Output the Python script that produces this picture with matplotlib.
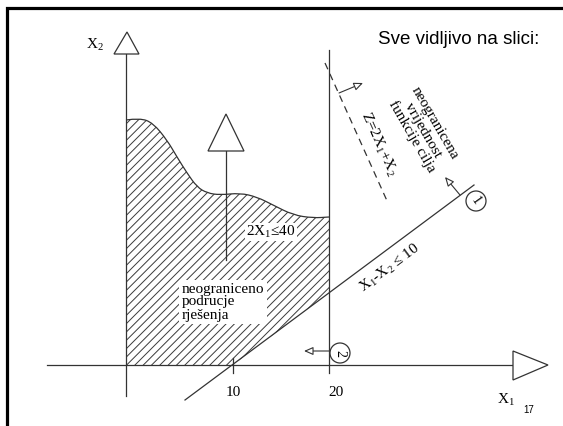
import numpy as np
import matplotlib
matplotlib.use("Agg")
import matplotlib.pyplot as plt
from matplotlib.path import Path
from matplotlib.patches import PathPatch, Polygon, Circle, FancyArrowPatch

plt.rcParams['font.family'] = ['Liberation Serif', 'DejaVu Serif']
plt.rcParams['mathtext.fontset'] = 'custom'
plt.rcParams['mathtext.rm'] = 'Liberation Serif'
plt.rcParams['mathtext.it'] = 'Liberation Serif:italic'
plt.rcParams['hatch.linewidth'] = 0.7
plt.rcParams['hatch.color'] = '#3a3a3a'

# skica je u koordinatama slike (x udesno, y prema dolje)
okvir_x = [6.5, 6.5, 563]
okvir_y = [426, 7.5, 7.5]

os_x1_x = [47, 513]
os_x1_y = [365, 365]
vrh_x1 = [(513, 351), (513, 380), (548, 365)]

os_x2_x = [126, 126]
os_x2_y = [396, 54]
vrh_x2 = [(114, 54), (139, 54), (127, 32)]

# ogranicenje 2X1 <= 40 (okomita linija kod 20) i crtica kod 10
linija_20_x = [329, 329]
linija_20_y = [50, 373]
crtica_10_x = [233, 233]
crtica_10_y = [358, 373]

# pravac X1 - X2 <= 10
pravac_x = [185, 474]
pravac_y = [400, 185]

# funkcija cilja (iscrtkano)
cilj_x = [325, 388]
cilj_y = [63, 203]

# gornji rub podrucja (valovita krivulja)
krivulja_x = [126, 140, 153, 167, 177, 187, 197, 207, 220, 240, 257, 273, 293, 313, 329]
krivulja_y = [120, 118, 123, 140, 157, 173, 187, 193, 195, 193, 197, 205, 215, 218, 217]

# strelica unutar podrucja
unutarnja_x = [226, 226]
unutarnja_y = [260, 151]
vrh_unutarnji = [(208, 151), (244, 151), (226, 114)]

# male strelice smjera
strelice = [((460, 195), (445, 177)),
            ((329, 351), (304, 351)),
            ((339, 93), (363, 83))]

krugovi = [((476, 201), '1', -55), ((340, 353), '2', -90)]

boja = '#333333'

fig = plt.figure(figsize=(5.63, 4.26), dpi=100)
ax = fig.add_axes([0, 0, 1, 1])
ax.set_xlim(0, 563)
ax.set_ylim(426, 0)
ax.axis('off')

# okvir slajda
ax.plot(okvir_x, okvir_y, color='black', lw=2.3, solid_joinstyle='miter')

# krivulja kao glatki put kroz ocitane tocke
kv = [(krivulja_x[0], krivulja_y[0])]
kc = [Path.MOVETO]
for i in range(1, len(krivulja_x) - 1):
    kv.append((krivulja_x[i], krivulja_y[i]))
    kv.append(((krivulja_x[i] + krivulja_x[i + 1]) / 2, (krivulja_y[i] + krivulja_y[i + 1]) / 2))
    kc += [Path.CURVE3, Path.CURVE3]
kv.append((krivulja_x[-1], krivulja_y[-1]))
kc.append(Path.LINETO)
krivulja_put = Path(kv, kc)

# srafirano podrucje rjesenja
nagib = (pravac_y[1] - pravac_y[0]) / (pravac_x[1] - pravac_x[0])
y_presjek = pravac_y[0] + (linija_20_x[0] - pravac_x[0]) * nagib
verts = [(os_x2_x[0], os_x1_y[0])] + kv + [(linija_20_x[0], y_presjek),
                                           (crtica_10_x[0], os_x1_y[0]),
                                           (os_x2_x[0], os_x1_y[0])]
codes = [Path.MOVETO, Path.LINETO] + kc[1:] + [Path.LINETO, Path.LINETO, Path.CLOSEPOLY]
ax.add_patch(PathPatch(Path(verts, codes), facecolor='none', edgecolor='#3a3a3a',
                       hatch='////', lw=0, zorder=1))
ax.add_patch(PathPatch(krivulja_put, facecolor='none', edgecolor=boja, lw=0.9, zorder=2))

# osi
ax.plot(os_x1_x, os_x1_y, color=boja, lw=0.9, zorder=2)
ax.plot(os_x2_x, os_x2_y, color=boja, lw=0.9, zorder=2)
for vrh in (vrh_x1, vrh_x2, vrh_unutarnji):
    ax.add_patch(Polygon(vrh, closed=True, fc='white', ec=boja, lw=0.9, zorder=3))

ax.plot(linija_20_x, linija_20_y, color=boja, lw=0.9, zorder=2)
ax.plot(crtica_10_x, crtica_10_y, color=boja, lw=0.9, zorder=2)
ax.plot(pravac_x, pravac_y, color=boja, lw=0.9, zorder=2)
ax.plot(cilj_x, cilj_y, color=boja, lw=0.9, ls=(0, (5.5, 4)), zorder=2)
ax.plot(unutarnja_x, unutarnja_y, color=boja, lw=0.9, zorder=2)

for (p0, p1) in strelice:
    ax.add_patch(FancyArrowPatch(p0, p1, arrowstyle='-|>,head_length=0.5,head_width=0.22',
                                 mutation_scale=11, fc='white', ec=boja, lw=0.8,
                                 shrinkA=0, shrinkB=0, zorder=3))

for (c, t, rot) in krugovi:
    ax.add_patch(Circle(c, 10, fc='white', ec=boja, lw=0.9, zorder=3))
    ax.text(c[0], c[1], t, fontsize=10, rotation=rot, ha='center', va='center', zorder=4)

# tekstovi
ax.text(459, 40, 'Sve vidljivo na slici:', family=['Liberation Sans', 'DejaVu Sans'],
        fontsize=13.5, ha='center', va='center')
ax.text(95, 45, r'X$_\mathrm{2}$', fontsize=11, ha='center', va='center')
ax.text(506, 400, r'X$_\mathrm{1}$', fontsize=11, ha='center', va='center')
ax.text(233, 392, '10', fontsize=11, ha='center', va='center')
ax.text(336, 392, '20', fontsize=11, ha='center', va='center')
ax.text(529, 410, '17', family=['Liberation Sans', 'DejaVu Sans'], fontsize=7,
        ha='center', va='center')

ax.text(271, 232, r'2X$_\mathrm{1}$≤40', fontsize=11, ha='center', va='center', zorder=4,
        bbox=dict(fc='white', ec='none', pad=0.5))
ax.text(182, 302, 'neograniceno\npodrucje\nrješenja', fontsize=11, ha='left', va='center',
        linespacing=1.0, zorder=4, bbox=dict(fc='white', ec='none', pad=2))
ax.text(390, 268, r'X$_\mathrm{1}$-X$_\mathrm{2}$ ≤ 10', fontsize=11, rotation=36.7,
        rotation_mode='anchor', ha='center', va='center')
ax.text(378, 144, r'Z=2X$_\mathrm{1}$+X$_\mathrm{2}$', fontsize=11, rotation=-65.8,
        rotation_mode='anchor', ha='center', va='center')
ax.text(423, 130, 'neogranicena\nvrijednost\nfunkcije cilja', fontsize=11, rotation=-60,
        rotation_mode='anchor', ha='center', va='center', multialignment='center',
        linespacing=1.0)

fig.savefig('out.png', dpi=100)
